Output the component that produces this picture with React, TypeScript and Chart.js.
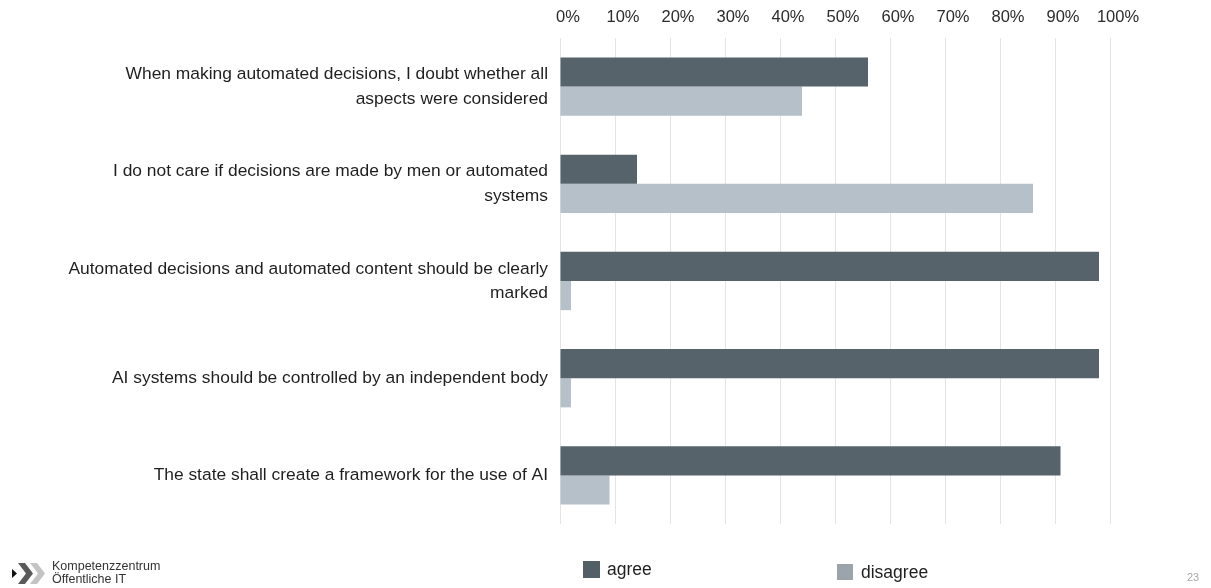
import React, { useEffect, useRef } from "react";
import { Chart, registerables } from "chart.js";

Chart.register(...registerables);

const categories: string[][] = [
  ["When making automated decisions, I doubt whether all", "aspects were considered"],
  ["I do not care if decisions are made by men or automated", "systems"],
  ["Automated decisions and automated content should be clearly", "marked"],
  ["AI systems should be controlled by an independent body"],
  ["The state shall create a framework for the use of AI"],
];
const agreeValues = [56, 14, 98, 98, 91];
const disagreeValues = [44, 86, 2, 2, 9];
const seriesNames = ["agree", "disagree"];
const seriesColors = ["#56636b", "#b6c0c8"];
const legendColors = ["#535f67", "#9ba4ab"];
const tickStep = 10;
const logoLines = ["Kompetenzzentrum", "Öffentliche IT"];
const pageNumber = "23";

const FONT = "'Liberation Sans', Arial, sans-serif";

export default function App() {
  const canvasRef = useRef<HTMLCanvasElement | null>(null);

  useEffect(() => {
    const canvas = canvasRef.current;
    if (!canvas) return;
    const chart = new Chart(canvas, {
      type: "bar",
      data: {
        labels: categories,
        datasets: [
          {
            label: seriesNames[0],
            data: agreeValues,
            backgroundColor: seriesColors[0],
            categoryPercentage: 0.6,
            barPercentage: 1.0,
          },
          {
            label: seriesNames[1],
            data: disagreeValues,
            backgroundColor: seriesColors[1],
            categoryPercentage: 0.6,
            barPercentage: 1.0,
          },
        ],
      },
      options: {
        indexAxis: "y",
        responsive: false,
        animation: false,
        devicePixelRatio: 1,
        layout: { padding: { left: 0, right: 101, top: 0, bottom: 64 } },
        plugins: {
          legend: { display: false },
          tooltip: { enabled: false },
        },
        scales: {
          x: {
            position: "top",
            min: 0,
            max: 100,
            ticks: {
              stepSize: tickStep,
              callback: (v: any) => `${v}%`,
              font: { family: FONT, size: 16.5 },
              color: "#2b2b2b",
              padding: 11,
              labelOffset: 8,
              maxRotation: 0,
              autoSkip: false,
            },
            grid: { color: "#e4e4e4", lineWidth: 1, drawTicks: false },
            border: { display: false },
            afterFit: (s: any) => {
              s.height = 38;
            },
          },
          y: {
            ticks: {
              font: { family: FONT, size: 17.4, lineHeight: 1.4 },
              color: "#1f1f1f",
              padding: 12,
              autoSkip: false,
            },
            grid: { display: false, drawTicks: false },
            border: { display: false },
            afterFit: (s: any) => {
              s.width = 560;
            },
          },
        },
      },
    });
    return () => chart.destroy();
  }, []);

  return (
    <div
      style={{
        position: "fixed",
        left: 0,
        top: 0,
        width: 1211,
        height: 588,
        background: "#ffffff",
        overflow: "hidden",
        fontFamily: FONT,
      }}
    >
      <canvas ref={canvasRef} width={1211} height={588} style={{ position: "absolute", left: 0, top: 0 }} />
      {/* legend */}
      <div style={{ position: "absolute", left: 583, top: 561, width: 17, height: 17, background: legendColors[0] }} />
      <div style={{ position: "absolute", left: 607, top: 559, fontSize: 17.5, lineHeight: "20px", color: "#1f1f1f" }}>
        {seriesNames[0]}
      </div>
      <div style={{ position: "absolute", left: 837, top: 564, width: 16, height: 16, background: legendColors[1] }} />
      <div style={{ position: "absolute", left: 861, top: 562, fontSize: 17.5, lineHeight: "20px", color: "#1f1f1f" }}>
        {seriesNames[1]}
      </div>
      {/* logo */}
      <svg style={{ position: "absolute", left: 0, top: 558 }} width={50} height={30}>
        <polygon points="12,11 17,15.5 12,20" fill="#111" />
        <polygon points="18,5 25,5 33,15.5 25,26 18,26 26,15.5" fill="#5a5a5a" />
        <polygon points="30,5 37,5 45,15.5 37,26 30,26 38,15.5" fill="#c4c4c4" />
      </svg>
      <div style={{ position: "absolute", left: 52, top: 560, fontSize: 12.5, lineHeight: "13px", color: "#333" }}>
        {logoLines[0]}
        <br />
        {logoLines[1]}
      </div>
      {/* page number */}
      <div style={{ position: "absolute", left: 1187, top: 571, fontSize: 11, lineHeight: "13px", color: "#a6a6a6" }}>
        {pageNumber}
      </div>
    </div>
  );
}
